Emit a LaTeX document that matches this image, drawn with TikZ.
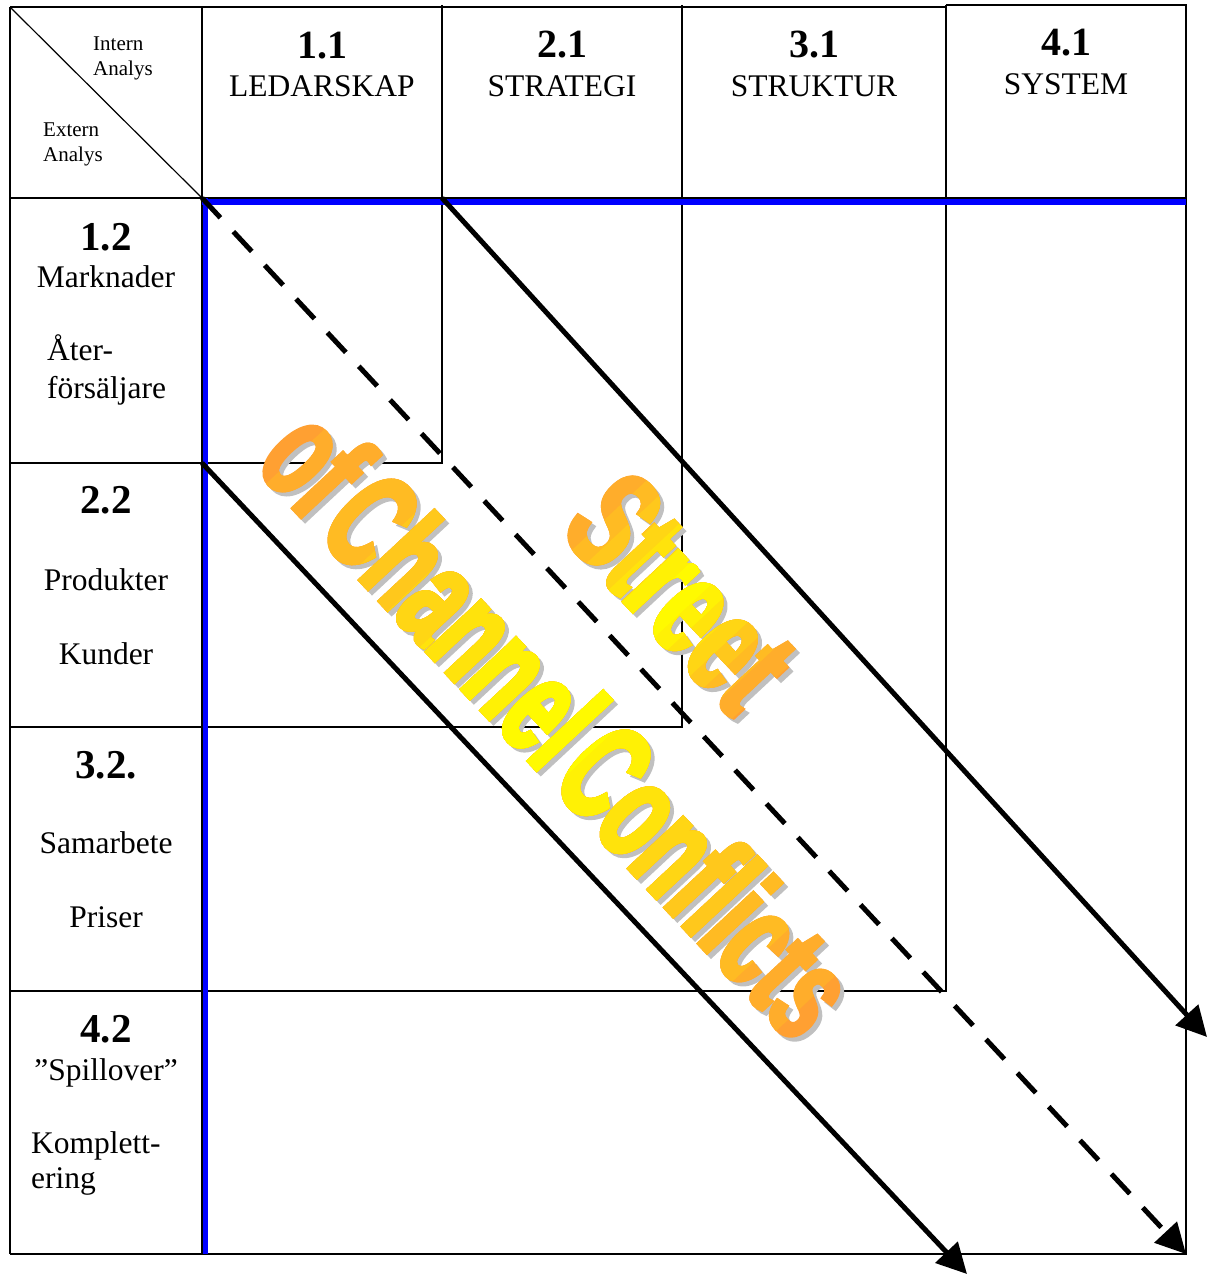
\documentclass[tikz,border=0pt]{standalone}
\usepackage{fontspec}
\setmainfont{Liberation Serif}
\newfontfamily\artfont[FakeStretch=0.6, FakeBold=3, WordSpace=0.5]{Liberation Sans}
\usetikzlibrary{arrows.meta}

\definecolor{artorange}{RGB}{255,160,50}
\definecolor{artyellow}{RGB}{255,250,0}
\definecolor{artshadow}{RGB}{192,192,192}

\tikzset{
  wordart/.style={font=\artfont\bfseries\fontsize{140}{140}\selectfont, rotate=-47, inner sep=0pt},
  streetart/.style={wordart, xscale=1.08},
}

\begin{document}
\begin{tikzpicture}[x=1pt, y=-1pt,
  cellline/.style={line width=1.6pt},
  blueline/.style={blue, line width=5.5pt},
  headnum/.style={font=\fontsize{40}{40}\selectfont\bfseries, inner sep=0pt, anchor=base},
  headtxt/.style={font=\fontsize{31.5}{36}\selectfont, inner sep=0pt, anchor=base},
  rownum/.style={font=\fontsize{41}{41}\selectfont\bfseries, inner sep=0pt, anchor=base},
  rowtxt/.style={font=\fontsize{31.5}{36}\selectfont, inner sep=0pt, anchor=base},
  rowleft/.style={rowtxt, anchor=base west},
  cornertxt/.style={font=\fontsize{21}{24}\selectfont, inner sep=0pt, anchor=base west},
  street/.style={line width=5pt, -{Triangle[length=30pt,width=30pt]}},
  ]
  \useasboundingbox (0,0) rectangle (1208,1276);

  % table
  \draw[cellline] (10,7) -- (946,7);
  \draw[cellline] (946,5) -- (1186,5) -- (1186,198);
  \draw[cellline] (10,198) -- (1186,198);
  \draw[cellline] (10,7) -- (10,1254);
  \draw[cellline] (202,7) -- (202,1254);
  \foreach \x/\y in {442/463, 682/727, 946/991, 1186/1254}
    \draw[cellline] (\x,5) -- (\x,\y) -- (10,\y);
  \draw[line width=1.2pt] (10,7) -- (202,198);

  % blue edges
  \draw[blueline] (202,202) -- (1186,202);
  \draw[blueline] (205.5,198) -- (205.5,1254);

  % corner cell
  \node[cornertxt] (intern) at (93,51) {Intern};
  \node[cornertxt] (interna) at (93,76) {Analys};
  \node[cornertxt] (extern) at (43,137) {Extern};
  \node[cornertxt] (externa) at (43,162) {Analys};

  % column heads
  \node[headnum] (h11) at (322,59) {1.1};
  \node[headtxt] (h11t) at (322,97) {LEDARSKAP};
  \node[headnum] (h21) at (562,58) {2.1};
  \node[headtxt] (h21t) at (562,97) {STRATEGI};
  \node[headnum] (h31) at (814,58) {3.1};
  \node[headtxt] (h31t) at (814,97) {STRUKTUR};
  \node[headnum] (h41) at (1066,56) {4.1};
  \node[headtxt] (h41t) at (1066,95) {SYSTEM};

  % row heads
  \node[rownum] (r12) at (106,250) {1.2};
  \node[rowtxt] (r12a) at (106,287) {Marknader};
  \node[rowleft] (r12b) at (47,360) {Åter-};
  \node[rowleft] (r12c) at (47,398) {försäljare};
  \node[rownum] (r22) at (106,513) {2.2};
  \node[rowtxt] (r22a) at (106,590) {Produkter};
  \node[rowtxt] (r22b) at (106,664) {Kunder};
  \node[rownum] (r32) at (106,778) {3.2.};
  \node[rowtxt] (r32a) at (106,853) {Samarbete};
  \node[rowtxt] (r32b) at (106,927) {Priser};
  \node[rownum] (r42) at (106,1042) {4.2};
  \node[rowtxt] (r42a) at (106,1080) {”Spillover”};
  \node[rowleft] (r42b) at (31,1153) {Komplett-};
  \node[rowleft] (r42c) at (31,1188) {ering};

  % arrows
  \coordinate (upstart) at (442,198);
  \coordinate (upend) at (1207,1037);
  \coordinate (midstart) at (202,198);
  \coordinate (midend) at (1186,1254);
  \coordinate (lowstart) at (202,463);
  \coordinate (lowend) at (967,1274);
  \draw[street] (upstart) -- (upend);
  \draw[street, dash pattern=on 27pt off 19pt] (midstart) -- (midend);
  \draw[street] (lowstart) -- (lowend);

  % word art, shadow first, then bands from orange to yellow
  \node[streetart, text=artshadow] (streetshadow) at (685,596) {Street};
  \node[wordart, text=artshadow] (conflictshadow) at (564,725) {of Channel Conflicts};
  \foreach \f/\c in {1/0, 0.85/15, 0.7/30, 0.57/45, 0.45/60, 0.34/75, 0.22/90, 0.1/100} {
    \begin{scope}[shift={(681,592)}, rotate=-47]
      \clip (-150*\f,-110) rectangle (150*\f,110);
      \node[streetart, text=artyellow!\c!artorange] (street\c) at (0,0) {Street};
    \end{scope}
    \begin{scope}[shift={(560,721)}, rotate=-47]
      \clip (-440*\f,-110) rectangle (440*\f,110);
      \node[wordart, text=artyellow!\c!artorange] (conflict\c) at (0,0) {of Channel Conflicts};
    \end{scope}
  }
\end{tikzpicture}
\end{document}
